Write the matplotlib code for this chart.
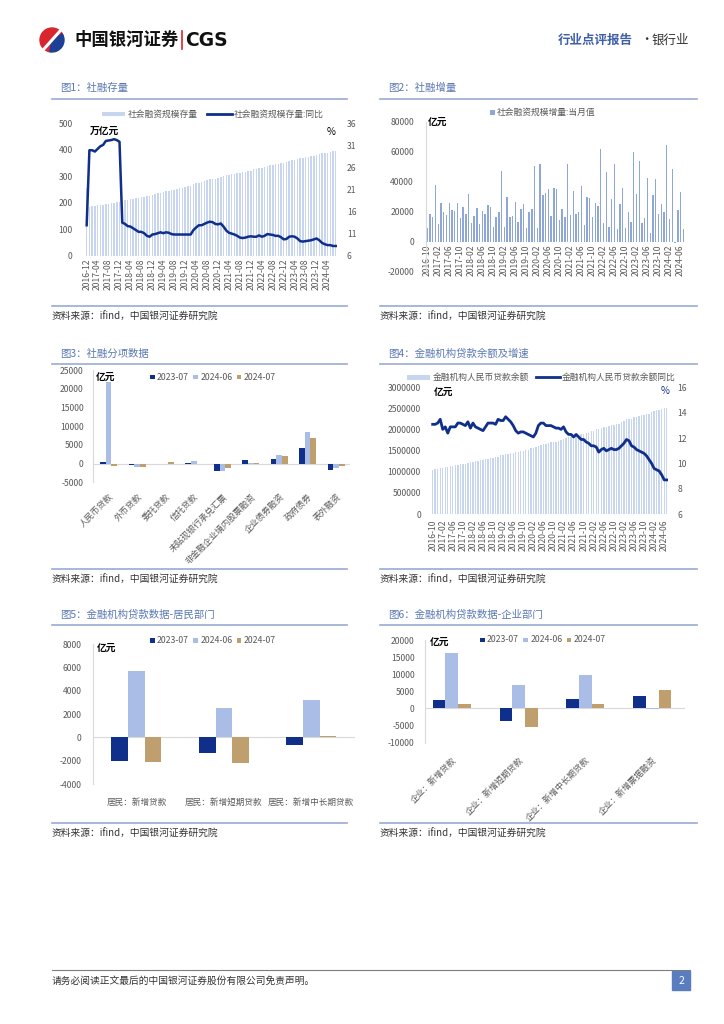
import numpy as np
import pandas as pd
import matplotlib
matplotlib.use('Agg')
import matplotlib.pyplot as plt
from matplotlib.patches import Rectangle, Wedge

plt.rcParams['font.family'] = ['Noto Sans CJK SC', 'DejaVu Sans']
plt.rcParams['axes.unicode_minus'] = False

# --- 数据 ---
# 图1 社融存量 (万亿元) 与同比 (%), 2016-12 ~ 2024-07
tsf_stock = [255,
             185, 186, 188, 190, 191, 193, 194, 196, 198, 199, 201, 203,
             207, 209, 211, 213, 215, 217, 218, 220, 222, 224, 226, 229,
             233, 235, 238, 241, 243, 246, 248, 250, 253, 255, 257, 259,
             264, 265, 270, 273, 276, 279, 281, 285, 288, 289, 291, 293,
             298, 300, 303, 305, 307, 310, 311, 313, 316, 317, 319, 321,
             326, 327, 331, 332, 335, 340, 341, 343, 346, 347, 349, 350,
             355, 358, 362, 363, 365, 368, 369, 371, 374, 375, 377, 379,
             385, 386, 389, 389, 391, 394, 395]
tsf_stock_yoy = [12.9,
                 29.9, 29.9, 29.6, 30.2, 30.8, 31.1, 32.0, 32.1, 32.2, 32.4, 32.2, 31.8,
                 13.5, 13.2, 12.7, 12.6, 12.2, 11.8, 11.4, 11.4, 11.1, 10.5, 10.3, 10.8,
                 10.9, 11.1, 11.3, 11.1, 11.3, 11.2, 10.9, 10.8, 10.8, 10.8, 10.8, 10.8,
                 10.8, 10.8, 11.8, 12.4, 12.9, 12.9, 13.2, 13.5, 13.7, 13.6, 13.2, 13.1,
                 13.3, 12.6, 11.7, 11.2, 11.0, 10.8, 10.5, 10.1, 10.0, 10.1, 10.3, 10.4,
                 10.3, 10.3, 10.6, 10.3, 10.5, 10.9, 10.8, 10.7, 10.5, 10.5, 10.2, 9.7,
                 9.8, 10.3, 10.4, 10.3, 9.9, 9.3, 9.2, 9.3, 9.4, 9.5, 9.7, 9.9,
                 9.5, 8.9, 8.6, 8.4, 8.4, 8.2, 8.2]

# 图2 社融增量当月值 (亿元), 2016-10 ~ 2024-07
tsf_flow = [8900, 18400, 16700,
            37800, 11500, 25500, 19800, 17800, 26000, 21300, 20400, 25500, 16000, 23100, 18400,
            31500, 12400, 17300, 22400, 11500, 20600, 18700, 24200, 23300, 10000, 16400, 19800,
            46900, 10000, 29800, 16700, 17300, 26400, 13100, 22000, 25100, 9100, 20000, 22000,
            50400, 9100, 51800, 31100, 32200, 34900, 17300, 35800, 34900, 14400, 21800, 16700,
            51800, 17800, 33800, 18700, 19800, 37100, 11100, 30000, 29300, 16700, 26000, 23800,
            61800, 12400, 46700, 9800, 28400, 51800, 8200, 25100, 35600, 9300, 20000, 13300,
            59800, 31800, 54000, 12700, 15800, 42700, 5800, 31300, 41600, 18400, 24900, 19800,
            64400, 15100, 48400, -700, 20900, 33100, 8200]

# 图3 社融分项 (亿元)
cats3 = ['人民币贷款', '外币贷款', '委托贷款', '信托贷款', '未贴现银行承兑汇票',
         '非金融企业境内股票融资', '企业债券融资', '政府债券', '表外融资']
s3_2307 = [364, -300, -30, 280, -1880, 890, 1340, 4109, -1700]
s3_2406 = [21900, -800, -40, 780, -2050, 60, 2230, 8469, -1250]
s3_2407 = [-766, -900, 300, 20, -1160, 250, 2050, 6911, -630]

# 图4 金融机构人民币贷款余额 (亿元) 与同比 (%), 2016-10 ~ 2024-07
loan_bal = [1052000, 1060000, 1066000,
            1086000, 1096000, 1108000, 1119000, 1130000, 1146000, 1154000, 1165000, 1178000, 1184000, 1195000, 1201000,
            1230000, 1239000, 1250000, 1262000, 1273000, 1291000, 1305000, 1318000, 1332000, 1339000, 1352000, 1363000,
            1396000, 1405000, 1422000, 1430000, 1442000, 1459000, 1469000, 1481000, 1498000, 1505000, 1519000, 1531000,
            1564000, 1573000, 1602000, 1619000, 1638000, 1656000, 1665000, 1679000, 1699000, 1706000, 1720000, 1727000,
            1763000, 1777000, 1804000, 1819000, 1834000, 1855000, 1866000, 1878000, 1895000, 1903000, 1916000, 1927000,
            1967000, 1979000, 2010000, 2016000, 2035000, 2064000, 2071000, 2084000, 2109000, 2114000, 2126000, 2140000,
            2189000, 2207000, 2245000, 2252000, 2265000, 2306000, 2306000, 2319000, 2346000, 2353000, 2364000, 2376000,
            2425000, 2439000, 2470000, 2478000, 2489000, 2509000, 2506000]
loan_yoy = [13.1, 13.1, 13.2,
            13.5, 12.7, 12.9, 12.4, 12.9, 12.9, 12.9, 13.2, 13.2, 13.1, 13.0, 13.3,
            12.8, 13.2, 12.9, 12.8, 12.7, 12.6, 12.9, 13.2, 13.2, 13.2, 13.1, 13.5,
            13.4, 13.4, 13.7, 13.5, 13.3, 13.0, 12.6, 12.4, 12.5, 12.5, 12.4, 12.3,
            12.2, 12.1, 12.4, 13.0, 13.2, 13.2, 13.0, 13.0, 13.0, 12.9, 12.8, 12.8,
            12.7, 12.9, 12.5, 12.3, 12.3, 12.1, 12.3, 12.1, 11.9, 11.9, 11.7, 11.6,
            11.4, 11.4, 11.3, 10.9, 11.1, 11.2, 11.0, 11.1, 11.2, 11.1, 11.1, 11.2,
            11.4, 11.6, 11.9, 11.8, 11.4, 11.3, 11.1, 11.0, 10.9, 10.8, 10.6, 10.3,
            10.0, 9.6, 9.5, 9.4, 9.1, 8.7, 8.7]

# 图5 居民部门 (亿元)
cats5 = ['居民：新增贷款', '居民：新增短期贷款', '居民：新增中长期贷款']
h_2307 = [-2007, -1334, -672]
h_2406 = [5731, 2497, 3234]
h_2407 = [-2100, -2200, 100]

# 图6 企业部门 (亿元)
cats6 = ['企业：新增贷款', '企业：新增短期贷款', '企业：新增中长期贷款', '企业：新增票据融资']
c_2307 = [2400, -3700, 2750, 3700]
c_2406 = [16100, 6800, 9700, -300]
c_2407 = [1300, -5400, 1300, 5500]

legend3 = ['2023-07', '2024-06', '2024-07']

# --- 样式 ---
W, H = 724, 1024
NAVY = '#0f2f8a'
LIGHT = '#a9bde6'
TAN = '#c09f6e'
PALE = '#c8d5ee'
FLOW = '#8ea6d8'
TITLE_C = '#5a78b4'
RULE_C = '#9aaad2'
TICK_C = '#595959'
GRID_C = '#d9d9d9'


def rect(x0, y0, x1, y1):
    return [x0 / W, 1 - y1 / H, (x1 - x0) / W, (y1 - y0) / H]


def clean(ax, ypad=7, xpad=2, left_spine=False):
    ax.set_facecolor('none')
    for s in ax.spines.values():
        s.set_visible(False)
    if left_spine:
        ax.spines['left'].set_visible(True)
        ax.spines['left'].set_color(GRID_C)
        ax.spines['left'].set_linewidth(0.8)
    ax.tick_params(length=0, labelsize=6.2, colors=TICK_C)
    ax.tick_params(axis='y', pad=ypad)
    ax.tick_params(axis='x', pad=xpad)


def yticks(ax, ticks):
    ax.set_yticks(ticks)
    ax.set_yticklabels([str(int(t)) for t in ticks])


fig = plt.figure(figsize=(W / 100, H / 100), dpi=100)
deco = fig.add_axes([0, 0, 1, 1])
deco.set_xlim(0, W)
deco.set_ylim(H, 0)
deco.axis('off')

# 页眉
deco.add_patch(Wedge((52, 40), 12, 100, 330, color='#d7262e'))
deco.add_patch(Wedge((52, 40), 12, -30, 100, color='#1d3f94'))
deco.plot([44, 52, 60], [49, 40, 31], color='white', lw=2.2)
deco.text(74, 40, '中国银河证券', fontsize=12.5, fontweight='bold', va='center', color='#111111')
deco.plot([181.5, 181.5], [31, 49], color='#d7262e', lw=1.2)
deco.text(185, 40, 'CGS', fontsize=13.5, fontweight='bold', va='center', color='#111111',
          family=['DejaVu Sans'])
deco.text(558, 40, '行业点评报告', fontsize=9, va='center', color='#3f5fa8', fontweight='bold')
deco.text(640, 40, '·', fontsize=9, va='center', color='#333333')
deco.text(652, 40, '银行业', fontsize=9, va='center', color='#333333')

# 页脚
deco.plot([52, 690], [970, 970], color='#7f7f7f', lw=0.8)
deco.text(52, 981, '请务必阅读正文最后的中国银河证券股份有限公司免责声明。', fontsize=7, va='center', color='#333333')
deco.add_patch(Rectangle((672, 971), 18, 19, color='#5a7dc0'))
deco.text(681, 980.5, '2', fontsize=7.5, color='white', ha='center', va='center')


def panel(x0, x1, ytitle, ytop, ybot, title):
    deco.text(x0 + 8, ytitle, title, color=TITLE_C, fontsize=7.5, va='center')
    deco.plot([x0, x1], [ytop, ytop], color=RULE_C, lw=1.2)
    deco.plot([x0, x1], [ybot, ybot], color=RULE_C, lw=1.2)
    deco.text(x0, ybot + 11, '资料来源：ifind，中国银河证券研究院', fontsize=7, va='center',
              color='#333333', style='italic')


panel(52, 347, 88, 99, 306, '图1：社融存量')
panel(380, 697, 88, 99, 306, '图2：社融增量')
panel(52, 347, 354, 363.5, 568.5, '图3：社融分项数据')
panel(380, 697, 354, 363.5, 568.5, '图4：金融机构贷款余额及增速')
panel(52, 347, 615, 625, 822.5, '图5：金融机构贷款数据-居民部门')
panel(380, 697, 615, 625, 822.5, '图6：金融机构贷款数据-企业部门')


def legend_patch(x, y, w, h, color, label):
    deco.add_patch(Rectangle((x, y - h / 2), w, h, color=color, lw=0))
    deco.text(x + w + 2.5, y, label, fontsize=6.3, va='center', color=TICK_C)


def legend_line(x, y, w, color, label):
    deco.plot([x, x + w], [y, y], color=color, lw=2)
    deco.text(x + w + 2, y, label, fontsize=6.3, va='center', color=TICK_C)


def legend_three(x0, y):
    for dx, c, lab in zip([0, 43.3, 86.7], [NAVY, LIGHT, TAN], legend3):
        legend_patch(x0 + dx, y, 4.5, 4.5, c, lab)


# 图1
x1 = np.arange(len(tsf_stock))
lab1 = pd.period_range('2016-12', periods=len(tsf_stock), freq='M').strftime('%Y-%m')
ax1 = fig.add_axes(rect(85.3, 123.3, 337.1, 255.7))
ax1.bar(x1, tsf_stock, width=0.55, color=PALE)
ax1.set_xlim(-0.5, len(x1) - 0.5)
ax1.set_ylim(0, 500)
yticks(ax1, range(0, 501, 100))
ax1.set_xticks(x1[::4])
ax1.set_xticklabels(lab1[::4], rotation=90, fontsize=6.2)
clean(ax1, ypad=9)
ax1b = ax1.twinx()
ax1b.plot(x1, tsf_stock_yoy, color=NAVY, lw=1.8)
ax1b.set_ylim(6, 36)
yticks(ax1b, range(6, 37, 5))
clean(ax1b, ypad=7)
deco.text(90, 131, '万亿元', fontsize=7, fontweight='bold', va='center')
deco.text(327, 132, '%', fontsize=7, va='center')
legend_patch(101.7, 114, 23.3, 4.5, PALE, '社会融资规模存量')
legend_line(206.7, 114, 25, NAVY, '社会融资规模存量:同比')

# 图2
x2 = np.arange(len(tsf_flow))
lab2 = pd.period_range('2016-10', periods=len(tsf_flow), freq='M').strftime('%Y-%m')
ax2 = fig.add_axes(rect(425.9, 121.7, 684.7, 271.7))
clean(ax2, ypad=8.5, left_spine=True)
ax2.spines['bottom'].set_visible(True)
ax2.spines['bottom'].set_position(('data', 0))
ax2.spines['bottom'].set_color('none')
ax2.bar(x2, tsf_flow, width=0.5, color=FLOW)
ax2.set_xlim(-0.5, len(x2) - 0.5)
ax2.set_ylim(-20000, 80000)
yticks(ax2, range(-20000, 80001, 20000))
ax2.set_xticks(x2[::4])
ax2.set_xticklabels(lab2[::4], rotation=90, fontsize=6.2)
ax2.tick_params(length=0, labelsize=6.2, colors=TICK_C)
ax2.tick_params(axis='x', pad=2)
ax2.tick_params(axis='y', pad=8.5)
deco.text(428, 122, '亿元', fontsize=7, fontweight='bold', va='center')
legend_patch(490, 112.5, 4.5, 4.5, FLOW, '社会融资规模增量:当月值')

# 图3
x3 = np.arange(len(cats3))
ax3 = fig.add_axes(rect(93.3, 370, 350, 482.3))
ax3.bar(x3 - 0.2, s3_2307, 0.2, color=NAVY)
ax3.bar(x3, s3_2406, 0.2, color=LIGHT)
ax3.bar(x3 + 0.2, s3_2407, 0.2, color=TAN)
ax3.axhline(0, color=GRID_C, lw=0.8, zorder=0)
ax3.set_xlim(-0.54, 8.49)
ax3.set_ylim(-5000, 25000)
yticks(ax3, range(-5000, 25001, 5000))
ax3.set_xticks(x3)
ax3.set_xticklabels(cats3, rotation=45, ha='right', rotation_mode='anchor', fontsize=6.4)
clean(ax3, ypad=7, xpad=7, left_spine=True)
deco.text(96, 377, '亿元', fontsize=7, fontweight='bold', va='center')
legend_three(150, 377)

# 图4
x4 = np.arange(len(loan_bal))
lab4 = pd.period_range('2016-10', periods=len(loan_bal), freq='M').strftime('%Y-%m')
ax4 = fig.add_axes(rect(431.4, 387.7, 668, 514))
ax4.bar(x4, loan_bal, width=0.55, color=PALE)
ax4.set_xlim(-0.5, len(x4) - 0.5)
ax4.set_ylim(0, 3000000)
yticks(ax4, range(0, 3000001, 500000))
ax4.set_xticks(x4[::4])
ax4.set_xticklabels(lab4[::4], rotation=90, fontsize=6.2)
clean(ax4, ypad=7.5, xpad=4)
ax4b = ax4.twinx()
ax4b.plot(x4, loan_yoy, color=NAVY, lw=2)
ax4b.set_ylim(6, 16)
yticks(ax4b, range(6, 17, 2))
clean(ax4b, ypad=7)
deco.text(434, 392, '亿元', fontsize=7, fontweight='bold', va='center')
deco.text(661, 391, '%', fontsize=7, va='center', color=NAVY)
legend_patch(406.7, 377.3, 23.3, 4.5, PALE, '金融机构人民币贷款余额')
legend_line(535.7, 377.3, 24, NAVY, '金融机构人民币贷款余额同比')

# 图5
x5 = np.arange(len(cats5))
ax5 = fig.add_axes(rect(92.7, 644.3, 355, 784))
ax5.bar(x5 - 0.19, h_2307, 0.19, color=NAVY)
ax5.bar(x5, h_2406, 0.19, color=LIGHT)
ax5.bar(x5 + 0.19, h_2407, 0.19, color=TAN)
ax5.axhline(0, color=GRID_C, lw=0.8, zorder=0)
ax5.set_xlim(-0.5, 2.5)
ax5.set_ylim(-4000, 8000)
yticks(ax5, range(-4000, 8001, 2000))
ax5.set_xticks(x5)
ax5.set_xticklabels(cats5, fontsize=6.4)
clean(ax5, ypad=8, xpad=10, left_spine=True)
deco.text(97, 648, '亿元', fontsize=7, fontweight='bold', va='center')
legend_three(150, 640.7)

# 图6
x6 = np.arange(len(cats6))
ax6 = fig.add_axes(rect(425, 640, 685, 742.7))
ax6.bar(x6 - 0.19, c_2307, 0.19, color=NAVY)
ax6.bar(x6, c_2406, 0.19, color=LIGHT)
ax6.bar(x6 + 0.19, c_2407, 0.19, color=TAN)
ax6.axhline(0, color=GRID_C, lw=0.8, zorder=0)
ax6.set_xlim(-0.4, 3.49)
ax6.set_ylim(-10000, 20000)
yticks(ax6, range(-10000, 20001, 5000))
ax6.set_xticks(x6)
ax6.set_xticklabels(cats6, rotation=45, ha='right', rotation_mode='anchor', fontsize=6.2)
clean(ax6, ypad=7.5, xpad=9, left_spine=True)
deco.text(430, 641.7, '亿元', fontsize=7, fontweight='bold', va='center')
legend_three(480, 640)

fig.savefig('out.png', dpi=100)
